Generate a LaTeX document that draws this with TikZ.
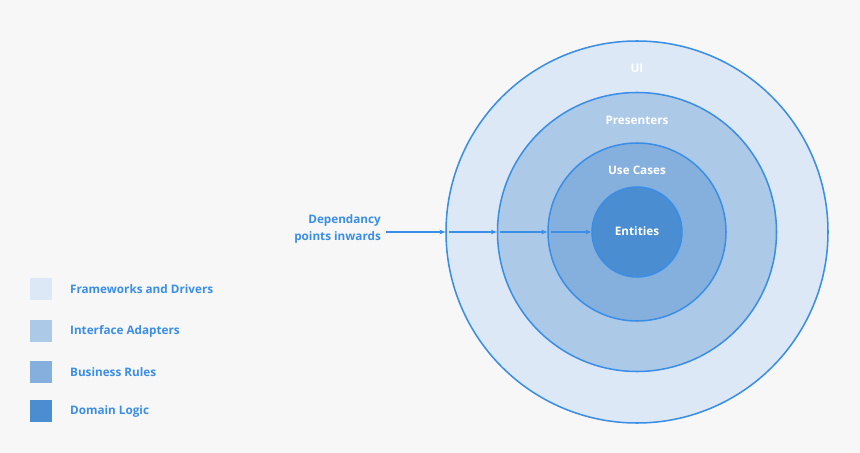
\documentclass[tikz,border=0pt]{standalone}
\usepackage{fontspec}
\setmainfont{Open Sans}
\usetikzlibrary{arrows.meta}
\definecolor{bg}{HTML}{F7F7F7}
\definecolor{ln}{HTML}{3A8EE6}
\definecolor{cA}{HTML}{DCE8F5}
\definecolor{cB}{HTML}{ADC9E8}
\definecolor{cC}{HTML}{85B0DD}
\definecolor{cD}{HTML}{4A8DD0}
\begin{document}
\begin{tikzpicture}[x=0.03cm,y=-0.03cm,
  ring/.style={circle,draw=ln,line width=1.3pt,inner sep=0pt},
  lbl/.style={text=white,font=\fontsize{10}{12}\selectfont\bfseries},
  leg/.style={minimum width=0.66cm,minimum height=0.66cm,inner sep=0pt},
  legt/.style={anchor=west,text=ln,font=\fontsize{10}{12}\selectfont\bfseries},
  arr/.style={draw=ln,line width=1.2pt,-{Stealth[length=5pt,width=4pt]}}]
\useasboundingbox[fill=bg] (0,0) rectangle (860,453);
\node[ring,fill=cA,minimum size=382*0.03cm] (ui) at (637,232) {};
\node[ring,fill=cB,minimum size=279*0.03cm] (pr) at (637,232) {};
\node[ring,fill=cC,minimum size=178*0.03cm] (uc) at (637,232) {};
\node[ring,fill=cD,minimum size=90*0.03cm] (en) at (637,232) {};
\node[lbl] (tui) at (637,68) {UI};
\node[lbl] (tpr) at (637,120) {Presenters};
\node[lbl] (tuc) at (637,170) {Use Cases};
\node[lbl] (ten) at (637,231) {Entities};
\node[align=right,text=ln,anchor=east,font=\fontsize{10}{14}\selectfont\bfseries] (dep) at (385,229) {Dependancy\\points inwards};
\coordinate (s0) at (386,232);
\coordinate (s1) at (449,232);
\coordinate (s2) at (500,232);
\coordinate (s3) at (551,232);
\draw[arr] (s0) -- (ui.west);
\draw[arr] (s1) -- (pr.west);
\draw[arr] (s2) -- (uc.west);
\draw[arr] (s3) -- (en.west);
\node[leg,fill=cA] (l1) at (41,289) {};
\node[leg,fill=cB] (l2) at (41,331) {};
\node[leg,fill=cC] (l3) at (41,372) {};
\node[leg,fill=cD] (l4) at (41,411) {};
\node[legt] (t1) at (66,289) {Frameworks and Drivers};
\node[legt] (t2) at (66,331) {Interface Adapters};
\node[legt] (t3) at (66,372) {Business Rules};
\node[legt] (t4) at (66,411) {Domain Logic};
\end{tikzpicture}
\end{document}
